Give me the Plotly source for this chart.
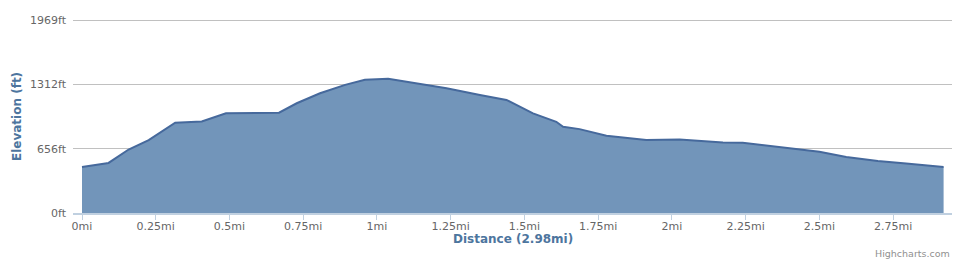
import plotly.graph_objects as go

distance_mi = [0, 0.090, 0.158, 0.226, 0.316, 0.406, 0.488, 0.58, 0.668, 0.728, 0.807,
               0.892, 0.959, 1.038, 1.151, 1.236, 1.349, 1.439, 1.529, 1.608, 1.631,
               1.687, 1.778, 1.913, 2.026, 2.173, 2.240, 2.331, 2.432, 2.500, 2.591,
               2.698, 2.794, 2.921]
elevation_ft = [470, 511, 648, 744, 921, 935, 1017, 1024, 1024, 1120, 1222,
                1308, 1359, 1369, 1315, 1274, 1205, 1154, 1017, 931, 880,
                856, 788, 744, 751, 720, 716, 685, 654, 624, 572,
                531, 505, 470]

x_tick_vals = [0, 0.25, 0.5, 0.75, 1, 1.25, 1.5, 1.75, 2, 2.25, 2.5, 2.75]
x_tick_text = ["0mi", "0.25mi", "0.5mi", "0.75mi", "1mi", "1.25mi", "1.5mi",
               "1.75mi", "2mi", "2.25mi", "2.5mi", "2.75mi"]
y_tick_vals = [0, 656, 1312, 1969]
y_tick_text = ["0ft", "656ft", "1312ft", "1969ft"]

FONT = "DejaVu Sans, Lucida Grande, sans-serif"
PLOT_H = 272 - 19 - 59
PLOT_W = 960 - 73 - 8

fig = go.Figure()
fig.add_trace(go.Scatter(
    x=distance_mi, y=elevation_ft, mode="lines", fill="tozeroy",
    fillcolor="rgba(114,149,186,1)",
    line=dict(color="#46699c", width=2),
    hoverinfo="skip", showlegend=False,
))

fig.update_layout(
    width=960, height=272,
    margin=dict(l=73, r=8, t=19, b=59),
    paper_bgcolor="white", plot_bgcolor="white",
    font=dict(family=FONT, size=11, color="#666666"),
    xaxis=dict(
        range=[-0.0305, 2.9495], tickvals=x_tick_vals, ticktext=x_tick_text,
        showgrid=False, zeroline=False, showline=True, linecolor="#C0D0E0",
        linewidth=2, ticks="outside", ticklen=5, tickcolor="#C0D0E0",
        ticklabelstandoff=-3,
        tickfont=dict(size=11, color="#666666"),
    ),
    yaxis=dict(
        range=[0, 1980], tickvals=y_tick_vals, ticktext=y_tick_text,
        showgrid=True, gridcolor="#C0C0C0", gridwidth=1, zeroline=False,
        showline=False, ticks="", ticklabelstandoff=6,
        tickfont=dict(size=11, color="#666666"),
    ),
    annotations=[
        dict(text="<b>Distance (2.98mi)</b>", xref="paper", yref="paper",
             x=(513 - 73) / PLOT_W, y=-26 / PLOT_H, xanchor="center", yanchor="middle",
             showarrow=False, font=dict(size=12, color="#4d759e", family=FONT)),
        dict(text="<b>Elevation (ft)</b>", xref="paper", yref="paper",
             x=(17 - 73) / PLOT_W, y=(213 - 117) / PLOT_H, xanchor="center",
             yanchor="middle", showarrow=False, textangle=-90,
             font=dict(size=12, color="#4d759e", family=FONT)),
        dict(text="Highcharts.com", xref="paper", yref="paper",
             x=1.0, y=-41 / PLOT_H, xanchor="right", yanchor="middle", showarrow=False,
             font=dict(size=9.5, color="#909090", family=FONT)),
    ],
)

fig.write_html("out.html")
